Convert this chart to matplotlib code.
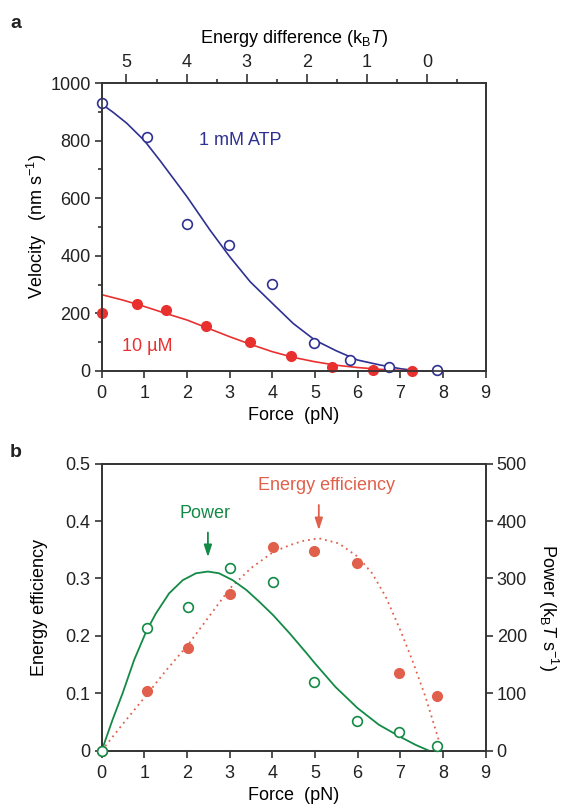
import matplotlib.pyplot as plt
from matplotlib.ticker import MultipleLocator

plt.rcParams['font.family'] = ['Liberation Sans', 'DejaVu Sans']
plt.rcParams['font.size'] = 13
plt.rcParams['text.color'] = '#222222'
plt.rcParams['xtick.color'] = '#222222'
plt.rcParams['ytick.color'] = '#222222'
plt.rcParams['mathtext.fontset'] = 'custom'
plt.rcParams['mathtext.rm'] = 'Liberation Sans'
plt.rcParams['mathtext.it'] = 'Liberation Sans:italic'

# ---- panel a: velocity vs force ----
force_1mM = [0, 1.07, 2.0, 2.98, 4.0, 4.98, 5.82, 6.73, 7.85]
vel_1mM = [929, 814, 509, 439, 301, 97, 37, 14, 5]
force_10uM = [0, 0.82, 1.51, 2.44, 3.47, 4.44, 5.41, 6.37, 7.28]
vel_10uM = [203, 231, 213, 156, 102, 51, 14, 5, 0]

fit_force_1mM = [0, 0.27, 0.59, 1.0, 1.37, 2.0, 2.54, 3.0, 3.48, 4.0, 4.49, 5.0, 5.5, 6.0,
                 6.52, 7.0, 7.42]
fit_vel_1mM = [927, 898, 860, 800, 730, 605, 489, 397, 310, 235, 165, 107, 70, 38, 21, 8, 0]
fit_force_10uM = [0, 0.5, 1, 1.5, 2, 2.5, 3, 3.5, 4, 4.5, 5, 5.5, 6, 6.5, 7, 7.3]
fit_vel_10uM = [265, 246, 224, 200, 177, 148, 119, 92, 67, 47, 32, 20, 12, 6, 2, 0]

energy_ticks = [5, 4, 3, 2, 1, 0]
stall_force = 7.63      # force where energy difference is 0
pn_per_kt = 1.41

# ---- panel b: efficiency and power ----
force_b = [0, 1.07, 2.02, 3.0, 4.02, 4.97, 5.99, 6.97, 7.85]
efficiency = [0, 0.104, 0.179, 0.273, 0.354, 0.348, 0.327, 0.136, 0.096]
power = [0, 213, 250, 319, 294, 119, 51, 33, 8]

fit_force_b = [0, 0.25, 0.49, 0.76, 1.04, 1.27, 1.58, 1.9, 2.21, 2.49, 2.75, 3.07, 3.39,
               3.7, 4.02, 4.41, 4.8, 5.0, 5.48, 6.0, 6.5, 7.0, 7.36, 7.67]
fit_power = [0, 53, 100, 158, 207, 239, 274, 297, 309, 312, 309, 297, 280,
             259, 236, 204, 170, 152, 111, 74, 45, 24, 10, 0]
fit_force_eff = [0, 0.5, 1.02, 1.5, 2.02, 2.5, 3.01, 3.5, 4.02, 4.41, 4.7, 5.09, 5.56, 6.0,
                 6.34, 6.66, 7.0, 7.28, 7.59, 7.9, 7.93]
fit_eff = [0, 0.047, 0.094, 0.139, 0.184, 0.232, 0.283, 0.318, 0.346, 0.358, 0.365, 0.370,
           0.361, 0.338, 0.309, 0.268, 0.210, 0.158, 0.094, 0.019, 0]

blue = '#2e3192'
red = '#e8312f'
green = '#138a45'
salmon = '#e0604c'
spine = '#333333'

fig = plt.figure(figsize=(5.62, 8.10), dpi=100)


def style(ax):
    for s in ax.spines.values():
        s.set_color(spine)
        s.set_linewidth(1.2)
    ax.tick_params(which='both', direction='out', color=spine, width=1.2)
    ax.tick_params(which='major', length=5, pad=3)
    ax.tick_params(which='minor', length=3)
    ax.tick_params(axis='x', which='major', pad=5)


# panel a
ax1 = fig.add_axes([0.181, 0.542, 0.683, 0.3555])
style(ax1)
ax1.plot(fit_force_1mM, fit_vel_1mM, color=blue, lw=1.2)
ax1.plot(fit_force_10uM, fit_vel_10uM, color=red, lw=1.2)
ax1.plot(force_1mM, vel_1mM, 'o', mfc='white', mec=blue, mew=1.2, ms=7, clip_on=False, zorder=5)
ax1.plot(force_10uM, vel_10uM, 'o', color=red, ms=7, clip_on=False, zorder=5)
ax1.set_xlim(0, 9)
ax1.set_ylim(0, 1000)
ax1.set_xticks(range(0, 10))
ax1.set_yticks(range(0, 1001, 200))
ax1.yaxis.set_minor_locator(MultipleLocator(100))
ax1.set_xlabel('Force  (pN)', labelpad=4)
ax1.set_ylabel('Velocity   (nm s$^{-1}$)', labelpad=1)
ax1.text(2.27, 800, '1 mM ATP', color=blue, ha='left', va='center')
ax1.text(0.48, 85, '10 µM', color=red, ha='left', va='center')

top = ax1.twiny()
top.set_xlim(0, 9)
top.set_xticks([stall_force - e * pn_per_kt for e in energy_ticks])
top.set_xticklabels([str(e) for e in energy_ticks])
top.set_xticks([stall_force - (e - 0.5) * pn_per_kt for e in energy_ticks], minor=True)
style(top)
top.tick_params(axis='x', which='major', length=6.5, pad=2)
top.set_xlabel('Energy difference (k$_\\mathregular{B}$$\\it{T}$)', labelpad=8)

# panel b
ax2 = fig.add_axes([0.181, 0.0733, 0.683, 0.3543])
style(ax2)
ax2.set_xlim(0, 9)
ax2.set_ylim(0, 0.5)
ax2.set_xticks(range(0, 10))
ax2.set_yticks([0, 0.1, 0.2, 0.3, 0.4, 0.5])
ax2.set_yticklabels(['0', '0.1', '0.2', '0.3', '0.4', '0.5'])
ax2.plot(fit_force_eff, fit_eff, linestyle=(0, (1, 2.2)), color=salmon, lw=1.3)
ax2.plot(force_b, efficiency, 'o', color=salmon, ms=7, clip_on=False, zorder=5)
ax2.set_xlabel('Force  (pN)', labelpad=4)
ax2.set_ylabel('Energy efficiency', labelpad=13)

ax3 = ax2.twinx()
style(ax3)
ax3.set_ylim(0, 500)
ax3.set_yticks(range(0, 501, 100))
ax3.plot(fit_force_b, fit_power, color=green, lw=1.3)
ax3.plot(force_b, power, 'o', mfc='white', mec=green, mew=1.2, ms=7, clip_on=False, zorder=4)
ax3.set_ylabel('Power (k$_\\mathregular{B}$$\\it{T}$ s$^{-1}$)', rotation=270, labelpad=24)

arrow = '-|>,head_width=0.18,head_length=0.55'
ax2.annotate('', xy=(2.49, 0.337), xytext=(2.49, 0.38),
             arrowprops=dict(arrowstyle=arrow, color=green, lw=1.3, shrinkA=0, shrinkB=0))
ax2.annotate('', xy=(5.09, 0.384), xytext=(5.09, 0.428),
             arrowprops=dict(arrowstyle=arrow, color=salmon, lw=1.3, shrinkA=0, shrinkB=0))
ax2.text(2.43, 0.414, 'Power', color=green, ha='center', va='center')
ax2.text(5.28, 0.462, 'Energy efficiency', color=salmon, ha='center', va='center')

fig.text(0.018, 0.982, 'a', fontsize=14, fontweight='bold', va='top')
fig.text(0.018, 0.452, 'b', fontsize=14, fontweight='bold', va='top')

fig.savefig('out.png', dpi=100)
